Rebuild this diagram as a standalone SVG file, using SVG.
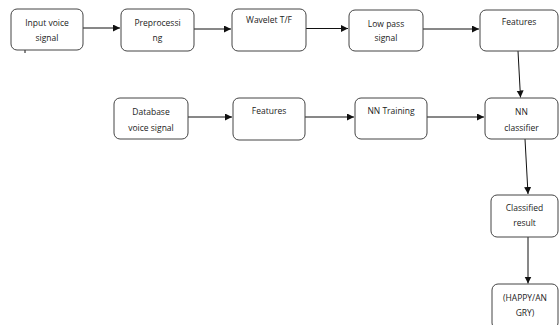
<svg xmlns="http://www.w3.org/2000/svg" width="559" height="325" viewBox="0 0 559 325">
<style>
.box{fill:#fff;stroke:#444;stroke-width:1}
.t{font-family:"Open Sans","Liberation Sans",sans-serif;font-size:8.5px;fill:#222;text-anchor:middle}
.c{stroke:#111;stroke-width:1;fill:none}
</style>
<defs>
<marker id="ah" markerWidth="8" markerHeight="8" refX="7" refY="3.5" orient="auto" markerUnits="userSpaceOnUse">
<path d="M0,0 L7,3.5 L0,7 Z" fill="#111"/>
</marker>
</defs>
<rect width="559" height="325" fill="#fff"/>
<g id="connectors">
<line class="c" x1="83" y1="28" x2="120" y2="28" marker-end="url(#ah)"/>
<line class="c" x1="194" y1="29" x2="231" y2="29" marker-end="url(#ah)"/>
<line class="c" x1="306" y1="28.5" x2="348" y2="28.5" marker-end="url(#ah)"/>
<line class="c" x1="423" y1="29" x2="479" y2="29" marker-end="url(#ah)"/>
<line class="c" x1="518" y1="51" x2="520.5" y2="97.5" marker-end="url(#ah)"/>
<line class="c" x1="188" y1="117" x2="232" y2="117" marker-end="url(#ah)"/>
<line class="c" x1="305" y1="117" x2="354" y2="117" marker-end="url(#ah)"/>
<line class="c" x1="427" y1="117" x2="484" y2="117" marker-end="url(#ah)"/>
<line class="c" x1="525" y1="139" x2="528" y2="194" marker-end="url(#ah)"/>
<line class="c" x1="528" y1="237" x2="528" y2="283.5" marker-end="url(#ah)"/>
<line class="c" x1="25" y1="39" x2="25" y2="53"/>
</g>
<g id="n1"><rect class="box" x="11" y="9" width="72" height="41" rx="6"/><text class="t" x="47" y="26">Input voice</text><text class="t" x="47" y="41">signal</text></g>
<g id="n2"><rect class="box" x="121" y="9" width="73" height="42" rx="6"/><text class="t" x="157.5" y="26">Preprocessi</text><text class="t" x="157.5" y="41">ng</text></g>
<g id="n3"><rect class="box" x="232" y="9" width="74" height="42" rx="6"/><text class="t" x="269" y="23">Wavelet T/F</text></g>
<g id="n4"><rect class="box" x="349" y="10" width="74" height="41" rx="6"/><text class="t" x="386" y="27">Low pass</text><text class="t" x="386" y="41">signal</text></g>
<g id="n5"><rect class="box" x="480" y="10" width="78" height="41" rx="6"/><text class="t" x="519" y="25">Features</text></g>
<g id="n6"><rect class="box" x="114" y="98" width="74" height="41" rx="6"/><text class="t" x="151" y="115">Database</text><text class="t" x="151" y="131">voice signal</text></g>
<g id="n7"><rect class="box" x="233" y="98" width="72" height="42" rx="6"/><text class="t" x="269" y="114">Features</text></g>
<g id="n8"><rect class="box" x="355" y="98" width="72" height="41" rx="6"/><text class="t" x="391" y="114">NN Training</text></g>
<g id="n9"><rect class="box" x="485" y="98" width="73" height="41" rx="6"/><text class="t" x="521.5" y="115">NN</text><text class="t" x="521.5" y="131">classifier</text></g>
<g id="n10"><rect class="box" x="491" y="195" width="67" height="42" rx="6"/><text class="t" x="524.5" y="211">Classified</text><text class="t" x="524.5" y="226">result</text></g>
<g id="n11"><rect class="box" x="492" y="284" width="66" height="45" rx="6"/><text class="t" x="525" y="301">(HAPPY/AN</text><text class="t" x="525" y="316">GRY)</text></g>
</svg>
